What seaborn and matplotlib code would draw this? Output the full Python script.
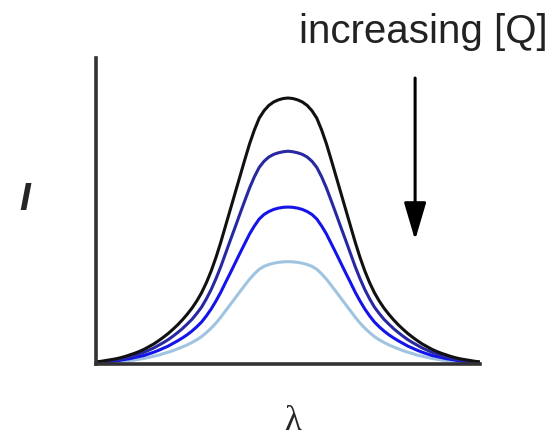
import pandas as pd
import matplotlib
matplotlib.use("Agg")
import matplotlib.pyplot as plt
import seaborn as sns

# wavelength positions (arbitrary units, peak centred at 50)
wavelength = [0, 1.25, 2.5, 3.75, 5, 6.25, 7.5, 8.75, 10, 11.25, 12.5, 13.75, 15, 16.25,
              17.5, 18.75, 20, 21.25, 22.5, 23.75, 25, 26.25, 27.5, 28.75, 30, 31.25, 32.5,
              33.75, 35, 36.25, 37.5, 38.75, 40, 41.25, 42.5, 43.75, 45, 46.25, 47.5, 48.75,
              50, 51.25, 52.5, 53.75, 55, 56.25, 57.5, 58.75, 60, 61.25, 62.5, 63.75, 65,
              66.25, 67.5, 68.75, 70, 71.25, 72.5, 73.75, 75, 76.25, 77.5, 78.75, 80, 81.25,
              82.5, 83.75, 85, 86.25, 87.5, 88.75, 90, 91.25, 92.5, 93.75, 95, 96.25, 97.5,
              98.75, 100]

# emission intensity, one list per quencher concentration
intensity_q0 = [0.008, 0.010, 0.013, 0.016, 0.019, 0.023, 0.028, 0.034, 0.040, 0.047, 0.055,
                0.065, 0.075, 0.087, 0.100, 0.114, 0.130, 0.147, 0.166, 0.187, 0.210, 0.237,
                0.268, 0.306, 0.350, 0.401, 0.458, 0.520, 0.582, 0.644, 0.706, 0.768, 0.828,
                0.880, 0.924, 0.952, 0.972, 0.985, 0.993, 0.998, 1.000,
                0.998, 0.993, 0.985, 0.972, 0.952, 0.924, 0.880, 0.828, 0.768, 0.706, 0.644,
                0.582, 0.520, 0.458, 0.401, 0.350, 0.306, 0.268, 0.237, 0.210, 0.187, 0.166,
                0.147, 0.130, 0.114, 0.100, 0.087, 0.075, 0.065, 0.055, 0.047, 0.040, 0.034,
                0.028, 0.023, 0.019, 0.016, 0.013, 0.010, 0.008]
intensity_q1 = [0.006, 0.008, 0.010, 0.013, 0.015, 0.018, 0.022, 0.027, 0.032, 0.038, 0.044,
                0.052, 0.060, 0.070, 0.080, 0.091, 0.104, 0.118, 0.133, 0.150, 0.168, 0.190,
                0.214, 0.245, 0.280, 0.321, 0.366, 0.416, 0.466, 0.515, 0.565, 0.614, 0.662,
                0.704, 0.739, 0.762, 0.778, 0.788, 0.794, 0.798, 0.800,
                0.798, 0.794, 0.788, 0.778, 0.762, 0.739, 0.704, 0.662, 0.614, 0.565, 0.515,
                0.466, 0.416, 0.366, 0.321, 0.280, 0.245, 0.214, 0.190, 0.168, 0.150, 0.133,
                0.118, 0.104, 0.091, 0.080, 0.070, 0.060, 0.052, 0.044, 0.038, 0.032, 0.027,
                0.022, 0.018, 0.015, 0.013, 0.010, 0.008, 0.006]
intensity_q2 = [0.005, 0.006, 0.008, 0.009, 0.011, 0.014, 0.017, 0.020, 0.024, 0.028, 0.032,
                0.038, 0.044, 0.051, 0.059, 0.067, 0.077, 0.087, 0.098, 0.110, 0.124, 0.140,
                0.158, 0.181, 0.207, 0.237, 0.270, 0.307, 0.343, 0.380, 0.417, 0.453, 0.489,
                0.519, 0.545, 0.562, 0.573, 0.581, 0.586, 0.589, 0.590,
                0.589, 0.586, 0.581, 0.573, 0.562, 0.545, 0.519, 0.489, 0.453, 0.417, 0.380,
                0.343, 0.307, 0.270, 0.237, 0.207, 0.181, 0.158, 0.140, 0.124, 0.110, 0.098,
                0.087, 0.077, 0.067, 0.059, 0.051, 0.044, 0.038, 0.032, 0.028, 0.024, 0.020,
                0.017, 0.014, 0.011, 0.009, 0.008, 0.006, 0.005]
intensity_q3 = [0.003, 0.004, 0.005, 0.006, 0.007, 0.009, 0.011, 0.013, 0.015, 0.018, 0.021,
                0.025, 0.029, 0.033, 0.039, 0.044, 0.050, 0.057, 0.064, 0.072, 0.081, 0.091,
                0.103, 0.118, 0.135, 0.154, 0.176, 0.200, 0.224, 0.248, 0.272, 0.296, 0.319,
                0.339, 0.356, 0.367, 0.374, 0.379, 0.382, 0.384, 0.385,
                0.384, 0.382, 0.379, 0.374, 0.367, 0.356, 0.339, 0.319, 0.296, 0.272, 0.248,
                0.224, 0.200, 0.176, 0.154, 0.135, 0.118, 0.103, 0.091, 0.081, 0.072, 0.064,
                0.057, 0.050, 0.044, 0.039, 0.033, 0.029, 0.025, 0.021, 0.018, 0.015, 0.013,
                0.011, 0.009, 0.007, 0.006, 0.005, 0.004, 0.003]

series = ["q0", "q1", "q2", "q3"]
colors = {"q0": "#111111", "q1": "#2828a2", "q2": "#1414ea", "q3": "#a0c4e0"}

df = pd.DataFrame({
    "wavelength": wavelength * 4,
    "intensity": intensity_q0 + intensity_q1 + intensity_q2 + intensity_q3,
    "series": [s for s in series for _ in wavelength],
})

sns.set_style("white")
plt.rcParams["font.family"] = ["Liberation Sans", "DejaVu Sans"]

fig = plt.figure(figsize=(5.54, 4.38), dpi=100)
ax = fig.add_axes([96 / 554, 74 / 438, 384 / 554, 306 / 438])

# draw the lowest curve first so the black one sits on top
for s in reversed(series):
    sns.lineplot(data=df[df["series"] == s], x="wavelength", y="intensity",
                 color=colors[s], lw=2.2, ax=ax, legend=False)

ax.set_xlim(0, 100)
ax.set_ylim(0, 306 / 266)
ax.set_xticks([])
ax.set_yticks([])
ax.set_xlabel("")
ax.set_ylabel("")
for side in ["top", "right"]:
    ax.spines[side].set_visible(False)
for side in ["left", "bottom"]:
    ax.spines[side].set_color("#333333")
    ax.spines[side].set_linewidth(2.6)

# arrow showing the effect of adding quencher
ax.annotate("", xy=(83.1, 0.466), xytext=(83.1, 1.075), xycoords="data",
            annotation_clip=False,
            arrowprops=dict(arrowstyle="-|>,head_length=1.15,head_width=0.34",
                            mutation_scale=20, lw=2.2, color="black",
                            shrinkA=0, shrinkB=0))

fig.text(548 / 554, 1 - 32 / 438, "increasing [Q]", ha="right", va="center",
         fontsize=29, color="#222222")
fig.text(25 / 554, 1 - 200 / 438, "I", ha="center", va="center", fontsize=28,
         fontweight="bold", fontstyle="italic")
fig.text(293 / 554, 1 - 421 / 438, "λ", ha="center", va="center", fontsize=25,
         family=["Liberation Serif"])

fig.savefig("out.png", dpi=100)
